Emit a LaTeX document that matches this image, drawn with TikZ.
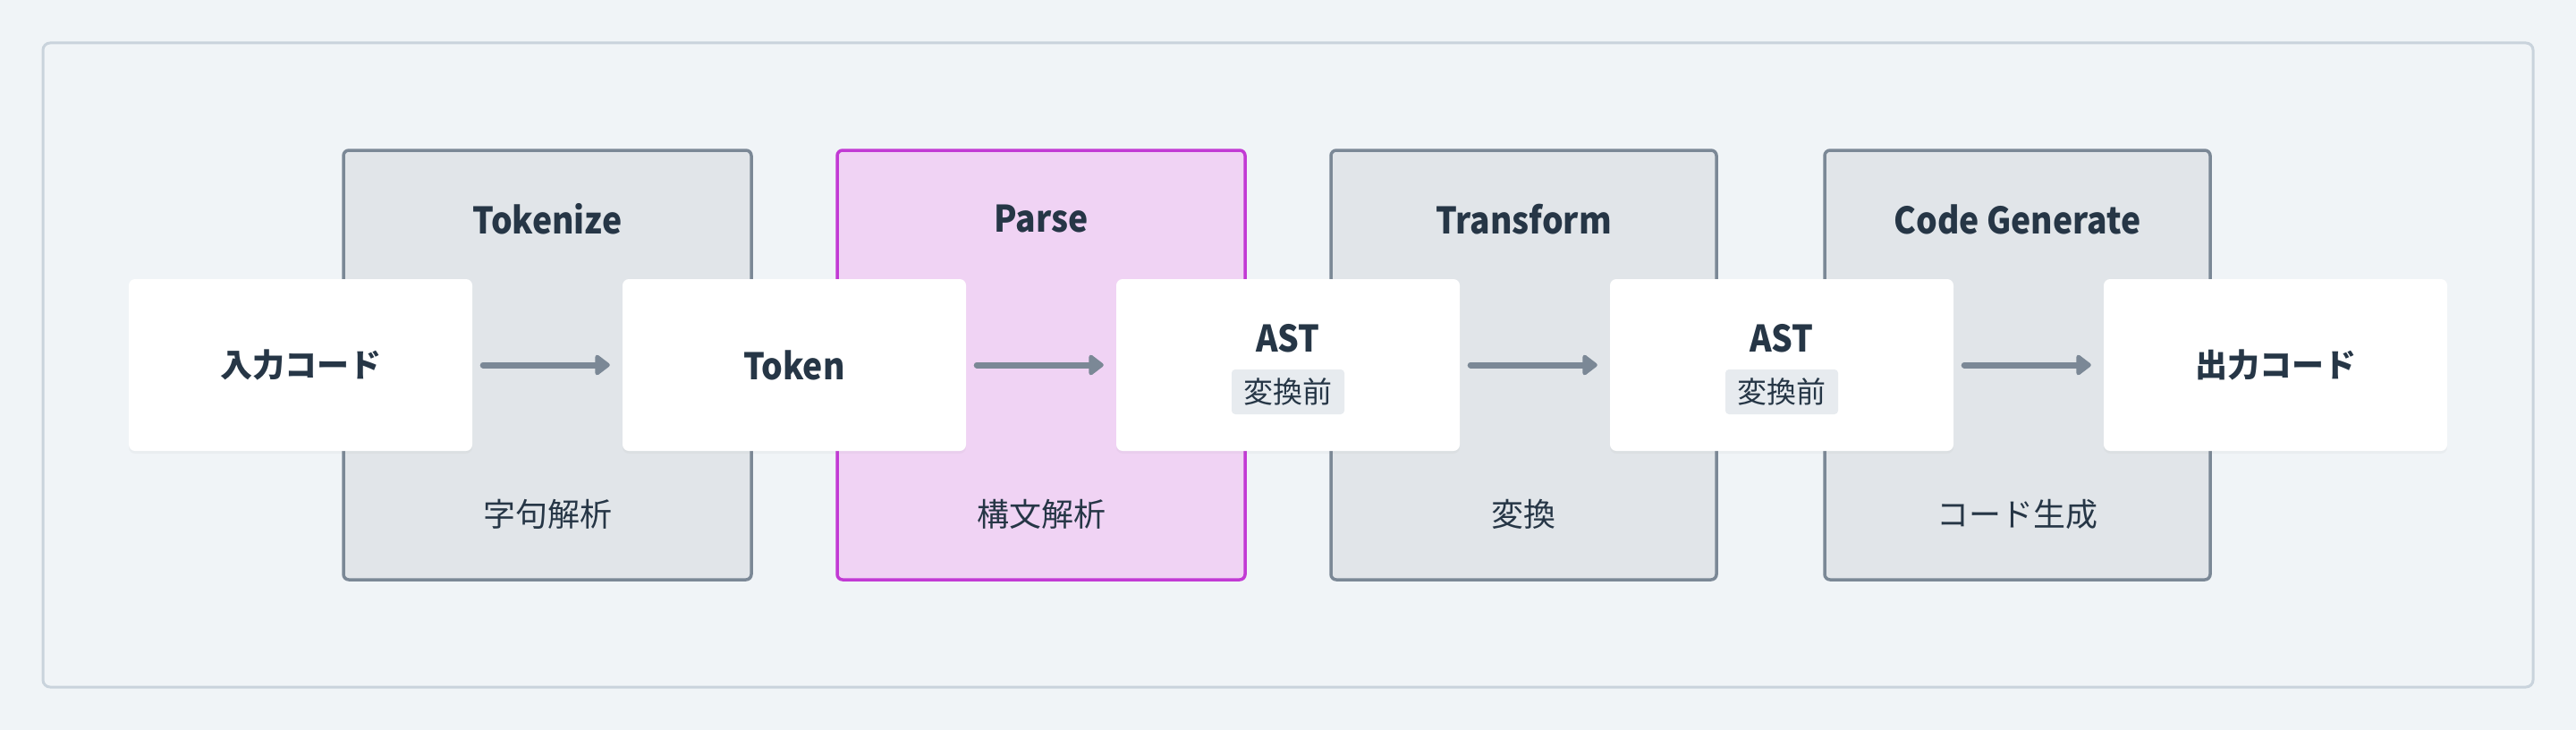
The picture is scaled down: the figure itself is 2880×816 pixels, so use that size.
\documentclass[tikz,border=0pt]{standalone}
\usepackage{fontspec}
\setmainfont{Noto Sans CJK JP}
\newfontfamily\latfont{Noto Sans CJK JP}[FakeStretch=0.91]
\usetikzlibrary{arrows.meta,shadows}
\definecolor{bg}{HTML}{F0F4F7}
\definecolor{frameline}{HTML}{C9D3DC}
\definecolor{grpfill}{HTML}{E1E5E9}
\definecolor{grpline}{HTML}{7B8896}
\definecolor{hifill}{HTML}{F0D3F4}
\definecolor{hiline}{HTML}{C23AD4}
\definecolor{ink}{HTML}{263646}
\definecolor{tagfill}{HTML}{E7EBEF}
\begin{document}
\begin{tikzpicture}[x=1pt,y=-1pt,
  frame/.style={draw=frameline,line width=3pt,rounded corners=8pt,minimum width=2784pt,minimum height=720pt,inner sep=0pt},
  grp/.style={draw=grpline,fill=grpfill,line width=3.5pt,rounded corners=6pt,minimum height=480pt,inner sep=0pt},
  higrp/.style={grp,draw=hiline,fill=hifill},
  title/.style={inner sep=0pt,text=ink,font=\latfont\fontsize{41pt}{44pt}\selectfont\bfseries},
  sub/.style={inner sep=0pt,text=ink,font=\fontsize{36pt}{40pt}\selectfont},
  wbox/.style={fill=white,rounded corners=7pt,minimum width=384pt,minimum height=192pt,inner sep=0pt,text=ink,
    drop shadow={opacity=0.06,shadow xshift=0pt,shadow yshift=-3pt}},
  lat/.style={inner sep=0pt,text=ink,font=\latfont\fontsize{41pt}{44pt}\selectfont\bfseries},
  cjk/.style={font=\fontsize{36pt}{40pt}\selectfont\bfseries},
  tag/.style={fill=tagfill,rounded corners=4pt,minimum width=126pt,minimum height=50pt,inner sep=0pt,text=ink,font=\fontsize{33pt}{36pt}\selectfont},
  arr/.style={draw=grpline,line width=7pt,line cap=round,-{Triangle[length=18pt,width=26pt,round]},shorten <=12pt,shorten >=14pt}
]
\useasboundingbox (0,0) rectangle (2880,816);
\fill[bg] (0,0) rectangle (2880,816);
\node[frame] (frm) at (1440,408) {};
% stage groups
\node[grp,minimum width=456pt] (gtok) at (612,408) {};
\node[higrp,minimum width=456pt] (gpar) at (1164,408) {};
\node[grp,minimum width=431pt] (gtra) at (1703.5,408) {};
\node[grp,minimum width=431pt] (ggen) at (2255.5,408) {};
\node[title] (ttok) at (612,245) {Tokenize};
\node[title] (tpar) at (1164,245) {Parse};
\node[title] (ttra) at (1703.5,245) {Transform};
\node[title] (tgen) at (2255.5,245) {Code Generate};
\node[sub] (stok) at (612,575) {字句解析};
\node[sub] (spar) at (1164,575) {構文解析};
\node[sub] (stra) at (1703.5,575) {変換};
\node[sub] (sgen) at (2255.5,575) {コード生成};
% data boxes
\node[wbox,cjk] (in) at (336,408) {入力コード};
\node[wbox,lat] (tk) at (888,408) {Token};
\node[wbox] (ast1) at (1440,408) {};
\node[wbox] (ast2) at (1992,408) {};
\node[wbox,cjk] (out) at (2544,408) {出力コード};
\node[lat] (ast1l) at (1440,378) {AST};
\node[tag] (ast1t) at (1440,438) {変換前};
\node[lat] (ast2l) at (1992,378) {AST};
\node[tag] (ast2t) at (1992,438) {変換前};
% arrows
\draw[arr] (in.east) -- (tk.west);
\draw[arr] (tk.east) -- (ast1.west);
\draw[arr] (ast1.east) -- (ast2.west);
\draw[arr] (ast2.east) -- (out.west);
\end{tikzpicture}
\end{document}
